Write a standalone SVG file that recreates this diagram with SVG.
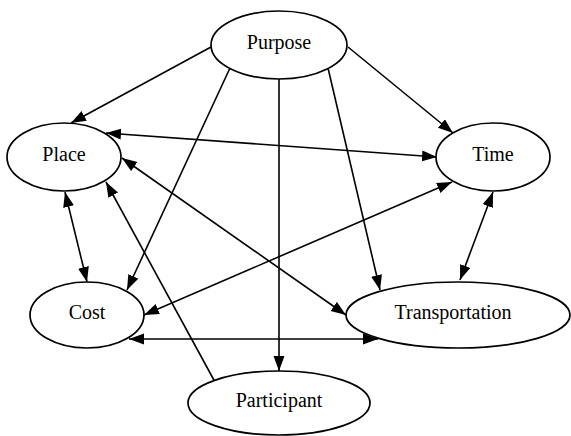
<svg xmlns="http://www.w3.org/2000/svg" width="571" height="436" viewBox="0 0 571 436">
  <style>
    .node ellipse { fill: #ffffff; stroke: #000000; stroke-width: 1.7; }
    .node text { font-family: "Liberation Serif", "Times New Roman", serif; font-size: 20px; fill: #000000; text-anchor: middle; }
    .edges line { stroke: #000000; stroke-width: 1.6; fill: none; }
    .one { marker-end: url(#head); }
    .two { marker-start: url(#head); marker-end: url(#head); }
  </style>
  <defs>
    <marker id="head" markerUnits="userSpaceOnUse" markerWidth="17" markerHeight="13" refX="15" refY="5.5" orient="auto-start-reverse">
      <path d="M0,0 L15,5.5 L0,11 z" fill="#000000"/>
    </marker>
  </defs>
  <rect width="571" height="436" fill="#ffffff"/>

  <g class="edges" id="connectors">
    <!-- Purpose to its dependents -->
    <line class="one" x1="211" y1="47" x2="71" y2="123"/>
    <line class="one" x1="230" y1="68" x2="127" y2="290"/>
    <line class="one" x1="279" y1="78" x2="279" y2="371"/>
    <line class="one" x1="328" y1="68" x2="380" y2="290"/>
    <line class="one" x1="348" y1="47" x2="453" y2="133"/>
    <!-- two-way links -->
    <line class="two" x1="106" y1="133" x2="437" y2="157"/>
    <line class="two" x1="122" y1="158" x2="346" y2="315"/>
    <line class="two" x1="65" y1="192" x2="87" y2="282"/>
    <line class="two" x1="144" y1="315" x2="452" y2="182"/>
    <line class="two" x1="129" y1="339" x2="378" y2="339"/>
    <line class="two" x1="493" y1="192" x2="460" y2="280"/>
    <!-- Participant to Place -->
    <line class="one" x1="215" y1="382" x2="106" y2="182"/>
  </g>

  <g class="node" id="purpose">
    <ellipse cx="279" cy="45" rx="68" ry="34"/>
    <text x="279" y="49">Purpose</text>
  </g>
  <g class="node" id="place">
    <ellipse cx="64" cy="157" rx="57" ry="34"/>
    <text x="64" y="161">Place</text>
  </g>
  <g class="node" id="time">
    <ellipse cx="493" cy="157" rx="57" ry="34"/>
    <text x="493" y="161">Time</text>
  </g>
  <g class="node" id="cost">
    <ellipse cx="87" cy="315" rx="57" ry="33"/>
    <text x="87" y="319">Cost</text>
  </g>
  <g class="node" id="transportation">
    <ellipse cx="458" cy="315" rx="112" ry="33"/>
    <text x="453" y="319">Transportation</text>
  </g>
  <g class="node" id="participant">
    <ellipse cx="279" cy="403" rx="91" ry="32"/>
    <text x="279" y="407">Participant</text>
  </g>
</svg>
